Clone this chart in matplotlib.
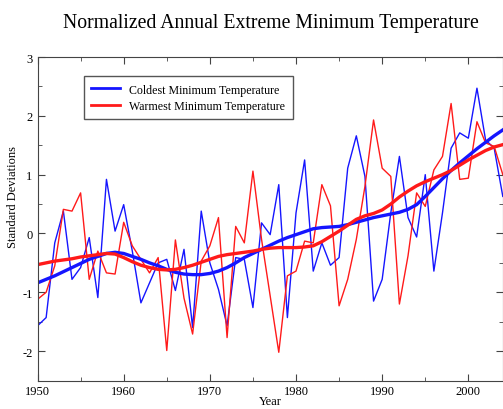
"""Normalized annual extreme minimum temperature, 1950-2004."""
import numpy as np
import matplotlib
matplotlib.use("Agg")
import matplotlib.pyplot as plt
from matplotlib.ticker import MultipleLocator

plt.rcParams["font.family"] = ["Liberation Serif", "DejaVu Serif"]
plt.rcParams["axes.unicode_minus"] = False

years = np.arange(1950, 2005)

# annual values, standard deviations
coldest = [-1.57, -1.43, -0.16, 0.38, -0.78, -0.58, -0.07, -1.09, 0.92, 0.04,
           0.49, -0.30, -1.18, -0.84, -0.50, -0.44, -0.97, -0.27, -1.60, 0.38,
           -0.50, -0.95, -1.57, -0.41, -0.44, -1.26, 0.18, -0.02, 0.83, -1.43,
           0.35, 1.25, -0.64, -0.16, -0.54, -0.41, 1.11, 1.66, 0.97, -1.15,
           -0.78, 0.35, 1.31, 0.27, -0.06, 1.00, -0.64, 0.35, 1.45, 1.71,
           1.62, 2.47, 1.59, 1.45, 0.63]
warmest = [-1.12, -1.00, -0.55, 0.41, 0.38, 0.69, -0.78, -0.30, -0.67, -0.69,
           0.19, -0.21, -0.44, -0.67, -0.41, -1.99, -0.11, -1.10, -1.71, -0.47,
           -0.21, 0.27, -1.77, 0.12, -0.16, 1.06, -0.10, -1.06, -2.02, -0.72,
           -0.64, -0.13, -0.16, 0.83, 0.47, -1.23, -0.78, -0.10, 0.80, 1.93,
           1.11, 0.97, -1.20, -0.38, 0.69, 0.46, 1.08, 1.31, 2.21, 0.92,
           0.94, 1.90, 1.54, 1.48, 1.00]

# smoothed trends
coldest_smooth = [-0.84, -0.78, -0.72, -0.65, -0.58, -0.51, -0.44, -0.39, -0.34, -0.32,
                  -0.34, -0.39, -0.44, -0.50, -0.55, -0.61, -0.66, -0.69, -0.70, -0.70,
                  -0.68, -0.64, -0.58, -0.50, -0.41, -0.34, -0.27, -0.20, -0.13, -0.07,
                  -0.02, 0.03, 0.08, 0.10, 0.11, 0.12, 0.15, 0.19, 0.23, 0.27,
                  0.30, 0.33, 0.36, 0.41, 0.49, 0.63, 0.78, 0.93, 1.07, 1.20,
                  1.32, 1.44, 1.55, 1.66, 1.76]
warmest_smooth = [-0.53, -0.50, -0.47, -0.45, -0.43, -0.40, -0.38, -0.36, -0.34, -0.35,
                  -0.41, -0.48, -0.54, -0.58, -0.61, -0.62, -0.61, -0.58, -0.54, -0.49,
                  -0.44, -0.39, -0.36, -0.34, -0.32, -0.30, -0.27, -0.25, -0.24, -0.24,
                  -0.24, -0.23, -0.21, -0.14, -0.05, 0.04, 0.14, 0.24, 0.30, 0.34,
                  0.40, 0.50, 0.62, 0.72, 0.81, 0.88, 0.94, 1.00, 1.07, 1.16,
                  1.25, 1.33, 1.41, 1.47, 1.51]

BLUE = "#1515ff"
RED = "#ff1a1a"

fig = plt.figure(figsize=(5.03, 4.10), dpi=100)
ax = fig.add_axes([0.0746, 0.0695, 0.925, 0.789])

ax.plot(years, coldest, color=BLUE, lw=1.0, label="Coldest Minimum Temperature")
ax.plot(years, warmest, color=RED, lw=1.0, label="Warmest Minimum Temperature")
ax.plot(years, coldest_smooth, color=BLUE, lw=2.4)
ax.plot(years, warmest_smooth, color=RED, lw=2.4)

ax.set_xlim(1950, 2004)
ax.set_ylim(-2.5, 3)
ax.xaxis.set_major_locator(MultipleLocator(10))
ax.xaxis.set_minor_locator(MultipleLocator(5))
ax.yaxis.set_major_locator(MultipleLocator(1))
ax.yaxis.set_minor_locator(MultipleLocator(0.5))
ax.tick_params(which="both", direction="in", top=True, right=True,
               labelsize=9, color="#444444")
ax.tick_params(which="major", length=5)
ax.tick_params(which="minor", length=3)
for s in ax.spines.values():
    s.set_color("#444444")

ax.set_xlabel("Year", fontsize=9, labelpad=-2)
ax.set_ylabel("Standard Deviations", fontsize=9)
ax.yaxis.set_label_coords(-0.04, 0.57)
fig.suptitle("Normalized Annual Extreme Minimum Temperature", x=0.538, y=0.965,
             fontsize=14.2)

leg = ax.legend(loc="upper left", bbox_to_anchor=(0.1, 0.94), fontsize=8.6,
                fancybox=False, framealpha=1, borderpad=0.6, handlelength=2.4,
                labelspacing=0.35, borderaxespad=0)
leg.get_frame().set_edgecolor("#555555")
leg.get_frame().set_linewidth(1.0)
for line in leg.get_lines():
    line.set_linewidth(2.0)

fig.savefig("out.png", dpi=100)
